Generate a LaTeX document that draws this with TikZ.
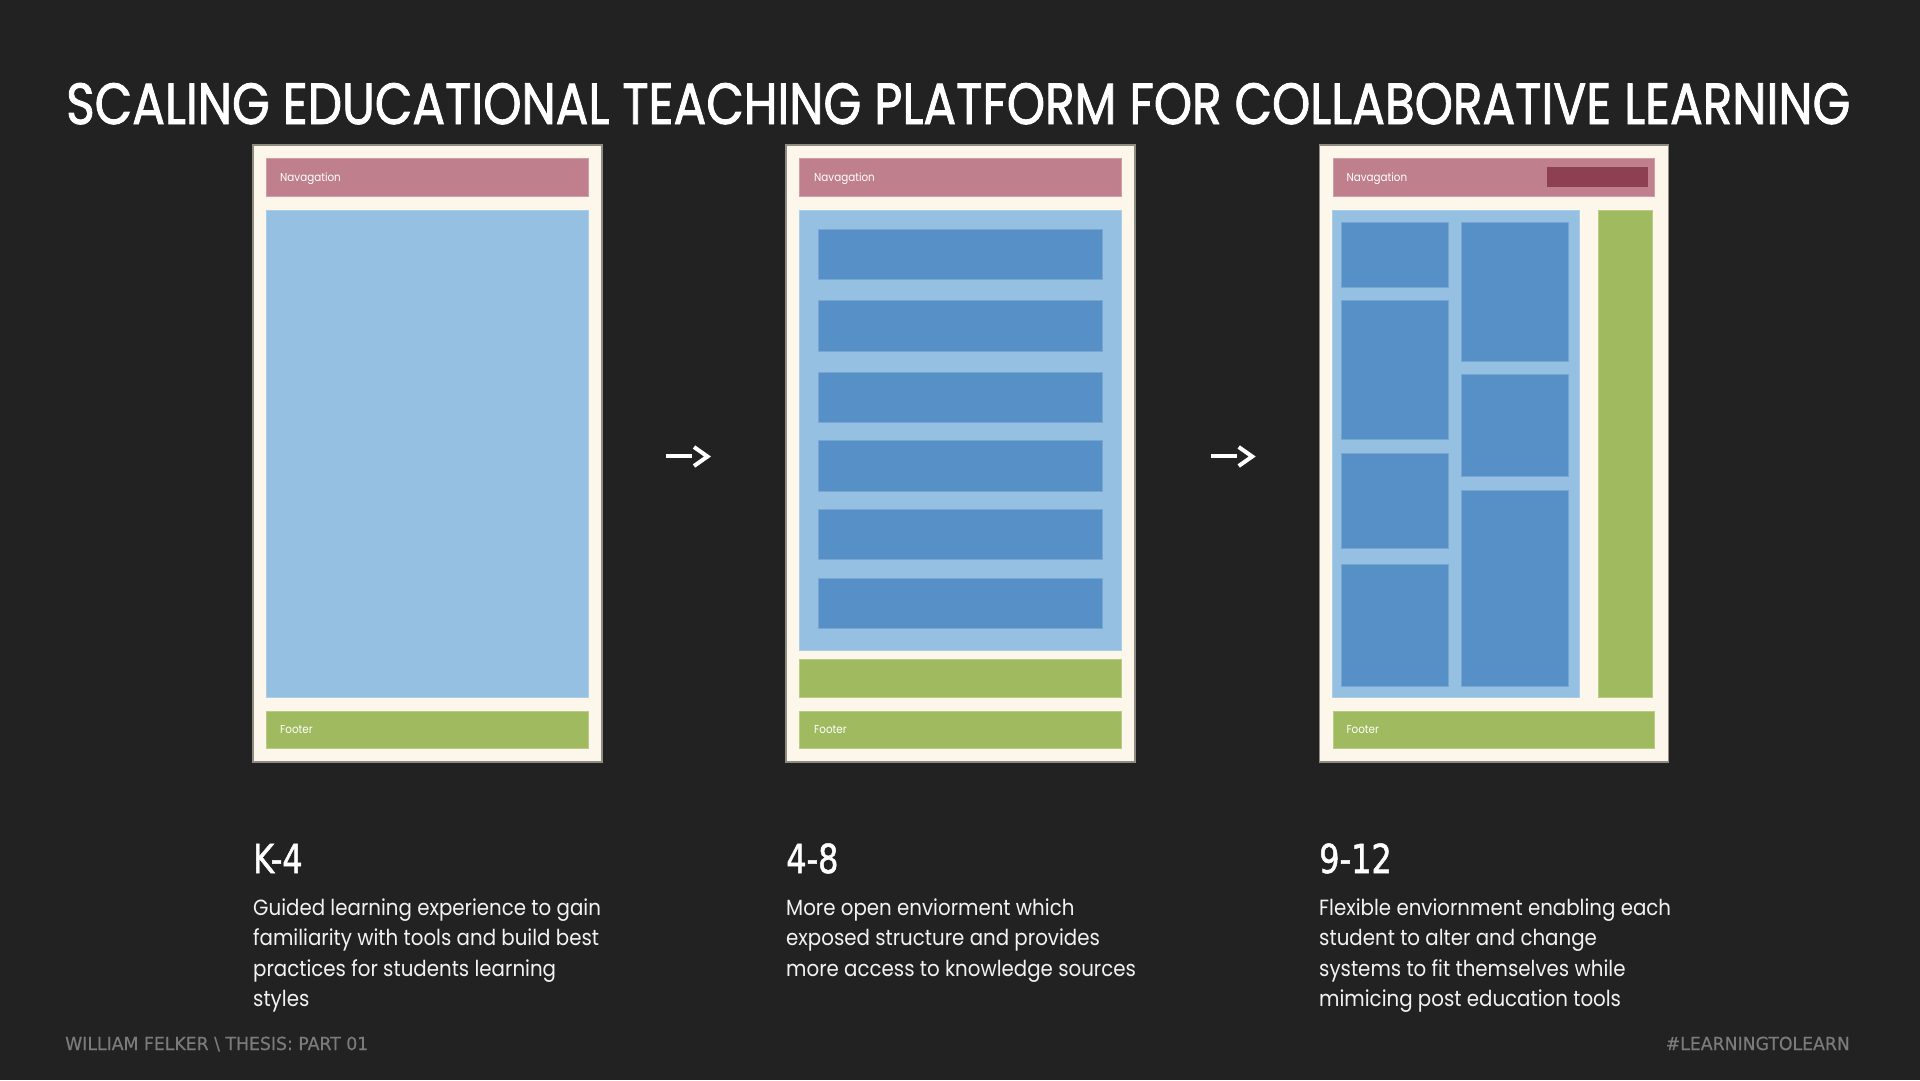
\documentclass[tikz,border=0pt]{standalone}
\usepackage{graphicx}
\usepackage{fontspec}
\setmainfont{Poppins}
\newfontfamily\titlefont[FakeBold=1.6]{Poppins}
\newfontfamily\bodyfont[FakeStretch=0.9]{Poppins}
\newfontfamily\headfont[FakeStretch=0.8,FakeBold=1.2]{DejaVu Sans}
\newfontfamily\cornerfont[FakeStretch=0.96,FakeBold=0.4]{DejaVu Sans}

\definecolor{bg}{HTML}{222222}
\definecolor{paper}{HTML}{FDF6EA}
\definecolor{paperedge}{HTML}{8F8C84}
\definecolor{navpink}{HTML}{BF7F8C}
\definecolor{navdark}{HTML}{8E4053}
\definecolor{skyblue}{HTML}{95C0E2}
\definecolor{tileblue}{HTML}{5690C7}
\definecolor{leafgreen}{HTML}{A0BA5F}
\definecolor{greytext}{HTML}{7B7B7B}
\definecolor{bodytext}{HTML}{F2F2F2}

\begin{document}
\begin{tikzpicture}[x=1pt,y=-1pt,
  panel/.style={fill=paper,draw=paperedge,line width=1.3pt},
  navbar/.style={fill=navpink,draw=navpink!75!white,line width=0.6pt},
  navbtn/.style={fill=navdark},
  content/.style={fill=skyblue,draw=skyblue!80!white,line width=0.6pt},
  tile/.style={fill=tileblue,draw=tileblue!80!white,line width=0.8pt},
  greenbar/.style={fill=leafgreen,draw=leafgreen!75!white,line width=0.6pt},
  barlabel/.style={anchor=base west,inner sep=0pt,text=white,font=\bodyfont\fontsize{11.5}{13}\selectfont},
  stage/.style={anchor=base west,inner sep=0pt,text=white,font=\headfont\fontsize{40}{44}\selectfont},
  blurb/.style={anchor=base west,inner sep=0pt,text=bodytext,font=\bodyfont\fontsize{22}{30.6}\selectfont},
  corner/.style={inner sep=0pt,text=greytext,font=\cornerfont\fontsize{18}{20}\selectfont},
  arrowstroke/.style={draw=white,line width=4.3pt},
  chevron/.style={draw=white,line width=4pt,miter limit=10}
]
% background and page frame
\fill[bg] (0,0) rectangle (1920,1080);
\useasboundingbox (0,0) rectangle (1920,1080);

% heading
\node[anchor=base west,inner sep=0pt,text=white] (title) at (66,124)
  {\resizebox{1784pt}{41pt}{\titlefont SCALING EDUCATIONAL TEACHING PLATFORM FOR COLLABORATIVE LEARNING}};

% ---------- K-4 layout ----------
\begin{scope}[xshift=253pt]
  \draw[panel] (0,145) rectangle (349,762);
  \draw[navbar] (13.7,158) rectangle (335,196);
  \node[barlabel] (nav1) at (27,181) {Navagation};
  \draw[content] (13.7,210) rectangle (335,697);
  \draw[greenbar] (13.7,711) rectangle (335,748.5);
  \node[barlabel] (foot1) at (27,733) {Footer};
\end{scope}

% ---------- 4-8 layout ----------
\begin{scope}[xshift=786pt]
  \draw[panel] (0,145) rectangle (349,762);
  \draw[navbar] (13.7,158) rectangle (335,196);
  \node[barlabel] (nav2) at (28,181) {Navagation};
  \draw[content] (13.7,210) rectangle (335,650);
  \foreach \t in {229,300.5,372,440.5,509,578}
    \draw[tile] (32,\t) rectangle (316,\t+50.5);
  \draw[greenbar] (13.7,659) rectangle (335,697);
  \draw[greenbar] (13.7,711) rectangle (335,748.5);
  \node[barlabel] (foot2) at (28,733) {Footer};
\end{scope}

% ---------- 9-12 layout ----------
\begin{scope}[xshift=1319.3pt]
  \draw[panel] (0,145) rectangle (349,762);
  \draw[navbar] (13.7,158) rectangle (335,196);
  \fill[navbtn] (227.7,167) rectangle (329,186.6);
  \node[barlabel] (nav3) at (27,181) {Navagation};
  \draw[content] (12.5,210) rectangle (259.7,697);
  \draw[greenbar] (279.4,210) rectangle (333,697);
  % left column of tiles
  \draw[tile] (22,222.8) rectangle (129,287);
  \draw[tile] (22,300.7) rectangle (129,439.7);
  \draw[tile] (22,453.4) rectangle (129,548.2);
  \draw[tile] (22,563.9) rectangle (129,686.4);
  % right column of tiles
  \draw[tile] (142.4,222.8) rectangle (249,361.8);
  \draw[tile] (142.4,374.2) rectangle (249,476.7);
  \draw[tile] (142.4,490.3) rectangle (249,686.4);
  \draw[greenbar] (13.7,711) rectangle (335,748.5);
  \node[barlabel] (foot3) at (27,733) {Footer};
\end{scope}

% ---------- progression arrows ----------
\coordinate (a1s) at (666,456);
\coordinate (a1e) at (692,456);
\coordinate (a1u) at (694,447);
\coordinate (a1t) at (707.5,456.5);
\coordinate (a1d) at (694,466);
\draw[arrowstroke] (a1s) -- (a1e);
\draw[chevron] (a1u) -- (a1t) -- (a1d);

\coordinate (a2s) at (1210.7,456);
\coordinate (a2e) at (1236.7,456);
\coordinate (a2u) at (1238.7,447);
\coordinate (a2t) at (1252.2,456.5);
\coordinate (a2d) at (1238.7,466);
\draw[arrowstroke] (a2s) -- (a2e);
\draw[chevron] (a2u) -- (a2t) -- (a2d);

% ---------- stage headings and descriptions ----------
\node[stage] (k4) at (253,873) {K-4};
\node[stage] (g48) at (786,873) {4-8};
\node[stage] (g912) at (1319,873) {9-12};

\node[blurb] (k4text) at (253,915) {\parbox[t]{420pt}{\raggedright
  Guided learning experience to gain\\
  familiarity with tools and build best\\
  practices for students learning\\
  styles}};
\node[blurb] (g48text) at (786,915) {\parbox[t]{420pt}{\raggedright
  More open enviorment which\\
  exposed structure and provides\\
  more access to knowledge sources}};
\node[blurb] (g912text) at (1319,915) {\parbox[t]{420pt}{\raggedright
  Flexible enviornment enabling each\\
  student to alter and change\\
  systems to fit themselves while\\
  mimicing post education tools}};

% ---------- footer line ----------
\node[corner,anchor=base west] (author) at (65,1050) {WILLIAM FELKER \textbackslash\ THESIS: PART 01};
\node[corner,anchor=base east] (tag) at (1850,1050) {\#LEARNINGTOLEARN};
\end{tikzpicture}
\end{document}
